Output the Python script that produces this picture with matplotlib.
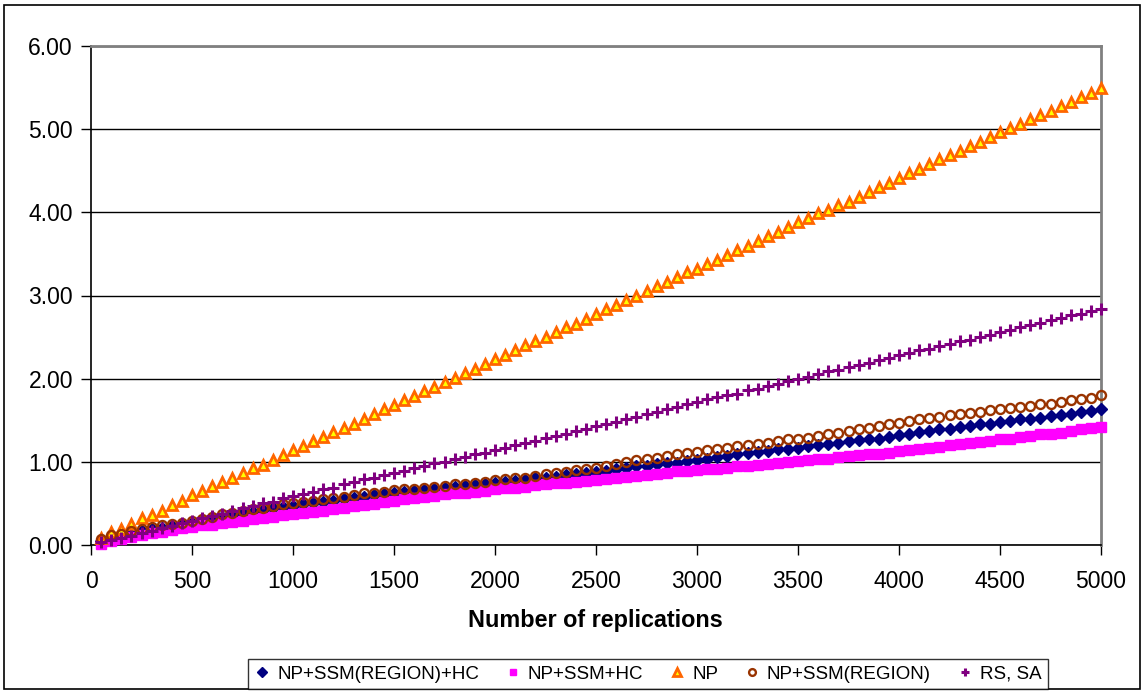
import numpy as np
import matplotlib.pyplot as plt
from matplotlib.patches import Rectangle
from matplotlib.ticker import FormatStrFormatter

plt.rcParams['font.family'] = ['Liberation Sans', 'DejaVu Sans']

# number of replications (x) and the five series
replications = list(range(50, 5001, 50))

np_ssm_region_hc = [
    0.05, 0.09, 0.11, 0.14, 0.17, 0.19, 0.21, 0.23, 0.25, 0.27,
    0.29, 0.31, 0.34, 0.36, 0.38, 0.40, 0.42, 0.44, 0.46, 0.47,
    0.49, 0.50, 0.52, 0.53, 0.55, 0.57, 0.58, 0.60, 0.61, 0.63,
    0.64, 0.65, 0.66, 0.67, 0.68, 0.70, 0.71, 0.72, 0.73, 0.75,
    0.76, 0.77, 0.78, 0.80, 0.81, 0.82, 0.84, 0.85, 0.86, 0.88,
    0.89, 0.91, 0.93, 0.95, 0.95, 0.97, 0.98, 0.99, 1.01, 1.02,
    1.04, 1.06, 1.07, 1.09, 1.11, 1.12, 1.13, 1.15, 1.16, 1.17,
    1.19, 1.20, 1.21, 1.23, 1.25, 1.26, 1.27, 1.28, 1.30, 1.32,
    1.34, 1.36, 1.37, 1.39, 1.40, 1.42, 1.43, 1.45, 1.46, 1.48,
    1.49, 1.51, 1.52, 1.53, 1.55, 1.56, 1.58, 1.60, 1.61, 1.63,
]

np_ssm_hc = [
    0.01, 0.05, 0.07, 0.10, 0.12, 0.15, 0.16, 0.18, 0.20, 0.22,
    0.24, 0.24, 0.26, 0.28, 0.29, 0.31, 0.33, 0.34, 0.36, 0.37,
    0.39, 0.40, 0.41, 0.43, 0.45, 0.47, 0.48, 0.49, 0.52, 0.53,
    0.55, 0.56, 0.58, 0.59, 0.61, 0.62, 0.63, 0.64, 0.65, 0.67,
    0.68, 0.69, 0.70, 0.72, 0.73, 0.74, 0.75, 0.76, 0.77, 0.78,
    0.79, 0.81, 0.82, 0.83, 0.84, 0.85, 0.87, 0.89, 0.89, 0.90,
    0.91, 0.91, 0.93, 0.95, 0.95, 0.96, 0.97, 0.99, 1.00, 1.01,
    1.02, 1.03, 1.04, 1.06, 1.07, 1.08, 1.10, 1.10, 1.11, 1.13,
    1.14, 1.16, 1.17, 1.18, 1.20, 1.21, 1.23, 1.24, 1.25, 1.27,
    1.28, 1.30, 1.31, 1.33, 1.34, 1.35, 1.37, 1.39, 1.41, 1.42,
]

np_only = [
    0.08, 0.16, 0.19, 0.25, 0.33, 0.36, 0.41, 0.48, 0.53, 0.60,
    0.65, 0.71, 0.76, 0.81, 0.86, 0.92, 0.96, 1.02, 1.08, 1.14,
    1.19, 1.25, 1.30, 1.36, 1.41, 1.46, 1.52, 1.57, 1.63, 1.68,
    1.74, 1.79, 1.85, 1.90, 1.96, 2.01, 2.07, 2.12, 2.18, 2.24,
    2.29, 2.35, 2.40, 2.45, 2.50, 2.56, 2.62, 2.66, 2.72, 2.78,
    2.84, 2.88, 2.94, 3.00, 3.06, 3.12, 3.16, 3.22, 3.28, 3.32,
    3.38, 3.43, 3.49, 3.55, 3.60, 3.66, 3.71, 3.76, 3.82, 3.88,
    3.93, 3.99, 4.03, 4.09, 4.13, 4.19, 4.25, 4.30, 4.35, 4.41,
    4.47, 4.52, 4.58, 4.64, 4.69, 4.74, 4.80, 4.85, 4.91, 4.96,
    5.01, 5.06, 5.12, 5.17, 5.22, 5.28, 5.33, 5.39, 5.44, 5.50,
]

np_ssm_region = [
    0.07, 0.12, 0.13, 0.17, 0.19, 0.22, 0.24, 0.25, 0.27, 0.29,
    0.31, 0.34, 0.37, 0.39, 0.41, 0.43, 0.45, 0.47, 0.49, 0.50,
    0.52, 0.53, 0.55, 0.56, 0.58, 0.60, 0.62, 0.63, 0.64, 0.66,
    0.67, 0.67, 0.69, 0.70, 0.71, 0.73, 0.73, 0.75, 0.76, 0.78,
    0.79, 0.80, 0.81, 0.83, 0.85, 0.86, 0.88, 0.90, 0.91, 0.93,
    0.95, 0.97, 1.00, 1.02, 1.03, 1.05, 1.07, 1.09, 1.11, 1.12,
    1.14, 1.15, 1.17, 1.19, 1.20, 1.22, 1.23, 1.25, 1.27, 1.28,
    1.29, 1.31, 1.33, 1.35, 1.37, 1.39, 1.41, 1.43, 1.45, 1.47,
    1.49, 1.51, 1.53, 1.54, 1.56, 1.57, 1.59, 1.60, 1.62, 1.63,
    1.65, 1.66, 1.67, 1.69, 1.70, 1.72, 1.74, 1.75, 1.77, 1.80,
]

rs_sa = [
    0.04, 0.06, 0.08, 0.11, 0.14, 0.17, 0.20, 0.23, 0.26, 0.29,
    0.32, 0.35, 0.37, 0.41, 0.44, 0.47, 0.50, 0.52, 0.56, 0.59,
    0.61, 0.64, 0.67, 0.69, 0.73, 0.76, 0.79, 0.81, 0.84, 0.87,
    0.89, 0.92, 0.95, 0.98, 1.00, 1.03, 1.06, 1.09, 1.11, 1.14,
    1.17, 1.20, 1.23, 1.25, 1.29, 1.31, 1.34, 1.37, 1.40, 1.43,
    1.45, 1.48, 1.51, 1.54, 1.57, 1.60, 1.63, 1.66, 1.69, 1.72,
    1.75, 1.78, 1.80, 1.82, 1.86, 1.88, 1.91, 1.94, 1.97, 2.00,
    2.02, 2.06, 2.09, 2.11, 2.14, 2.16, 2.19, 2.22, 2.25, 2.28,
    2.31, 2.34, 2.36, 2.39, 2.42, 2.45, 2.47, 2.50, 2.53, 2.56,
    2.59, 2.62, 2.64, 2.67, 2.70, 2.73, 2.76, 2.78, 2.81, 2.84,
]

x_ticks = list(range(0, 5001, 500))
y_ticks = [0, 1, 2, 3, 4, 5, 6]

fig = plt.figure(figsize=(11.45, 6.92), dpi=100)
ax = fig.add_axes([91 / 1145, 1 - 545 / 692, (1101 - 91) / 1145, (545 - 46) / 692])

# chart area border
fig.patches.append(Rectangle((4 / 1145, 3 / 692), 1136 / 1145, 684 / 692,
                             transform=fig.transFigure, fill=False,
                             edgecolor='black', linewidth=1.2))

ax.plot(replications, np_ssm_region_hc, linestyle='None', marker='D', markersize=6.3,
        color='#000080', label='NP+SSM(REGION)+HC', clip_on=False, zorder=3)
ax.plot(replications, np_ssm_hc, linestyle='None', marker='s', markersize=6.5,
        color='#FF00FF', label='NP+SSM+HC', clip_on=False, zorder=3)
ax.plot(replications, np_only, linestyle='None', marker='^', markersize=7.5,
        markerfacecolor='#FFFF00', markeredgecolor='#FF6600', markeredgewidth=2,
        label='NP', clip_on=False, zorder=3)
ax.plot(replications, np_ssm_region, linestyle='None', marker='o', markersize=6.5,
        markerfacecolor='none', markeredgecolor='#993300', markeredgewidth=1.7,
        label='NP+SSM(REGION)', clip_on=False, zorder=3)
ax.plot(replications, rs_sa, linestyle='None', marker='+', markersize=8.5,
        markeredgewidth=2.2, color='#800080', label='RS, SA', clip_on=False, zorder=3)

ax.set_xlim(0, 5000)
ax.set_ylim(0, 6)
ax.set_xticks(x_ticks)
ax.set_yticks(y_ticks)
ax.yaxis.set_major_formatter(FormatStrFormatter('%.2f'))
ax.yaxis.grid(True, color='black', linewidth=1)
ax.set_axisbelow(True)

ax.tick_params(axis='both', direction='out', length=7, width=1, labelsize=16.5, colors='black')
ax.tick_params(axis='y', pad=6)
ax.tick_params(axis='x', pad=11)

for side in ['left', 'bottom']:
    ax.spines[side].set_color('black')
    ax.spines[side].set_linewidth(1.2)
for side in ['top', 'right']:
    ax.spines[side].set_color('#808080')
    ax.spines[side].set_linewidth(2)

fig.text(595 / 1145, 1 - 620 / 692, 'Number of replications', ha='center', va='center',
         fontsize=16.8, fontweight='bold')

leg = fig.legend(loc='center', bbox_to_anchor=(648 / 1145, 1 - 674 / 692), ncol=5,
                 fontsize=13.5, frameon=True, fancybox=False, markerscale=0.75,
                 handlelength=0.8, handletextpad=0.4, columnspacing=1.4,
                 borderpad=0.35)
leg.get_frame().set_edgecolor('black')
leg.get_frame().set_linewidth(1)

plt.savefig('out.png', dpi=100)
